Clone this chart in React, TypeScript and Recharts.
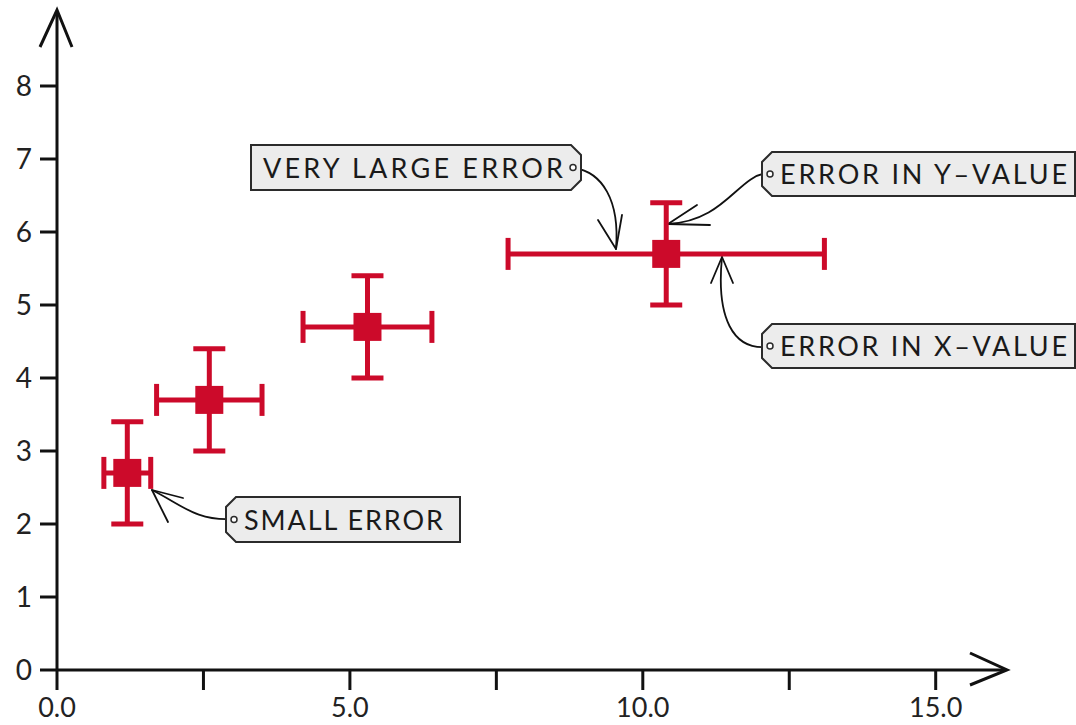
import React from 'react';
import { ScatterChart, Scatter, XAxis, YAxis, ErrorBar, Customized } from 'recharts';

// measured points with their uncertainties
const xValues = [1.2, 2.6, 5.3, 10.4];
const yValues = [2.7, 3.7, 4.7, 5.7];
const xErrors = [0.4, 0.9, 1.1, 2.7];
const yErrors = [0.7, 0.7, 0.7, 0.7];

const xTicks = [0, 2.5, 5, 7.5, 10, 12.5, 15];
const yTicks = [0, 1, 2, 3, 4, 5, 6, 7, 8];

const RED = '#cc0a2a';
const INK = '#111';
const FONT = 'Lato, "Open Sans", sans-serif';

const WIDTH = 1076;
const HEIGHT = 725;
const Y_AXIS_W = 57;
const X_AXIS_H = 55;
const MARGIN = { top: 13, right: 70, bottom: 0, left: 0 };

const points = xValues.map((x, i) => ({
  x,
  y: yValues[i],
  xErr: xErrors[i],
  yErr: yErrors[i],
}));

const SquareMarker = (props: any) => {
  const { cx, cy } = props;
  if (typeof cx !== 'number' || typeof cy !== 'number') return <g />;
  const s = 28;
  return <rect x={cx - s / 2} y={cy - s / 2} width={s} height={s} fill={RED} />;
};

interface TagProps {
  x0: number;
  x1: number;
  y0: number;
  y1: number;
  pin: 'left' | 'right';
  label: string;
  textWidth: number;
}

// label tag with a clipped corner on the side of the string hole
const Tag = ({ x0, x1, y0, y1, pin, label, textWidth }: TagProps) => {
  const c = 10;
  const d =
    pin === 'left'
      ? `M${x0 + c},${y0} L${x1},${y0} L${x1},${y1} L${x0 + c},${y1} L${x0},${y1 - c} L${x0},${y0 + c} Z`
      : `M${x0},${y0} L${x1 - c},${y0} L${x1},${y0 + c} L${x1},${y1 - c} L${x1 - c},${y1} L${x0},${y1} Z`;
  const midY = (y0 + y1) / 2;
  const holeX = pin === 'left' ? x0 + 8 : x1 - 8;
  const textX = pin === 'left' ? x0 + 18 : x0 + 12;
  return (
    <g>
      <path d={d} fill="#ececec" stroke="#2b2b2b" strokeWidth={2} />
      <circle cx={holeX} cy={midY} r={3} fill="#fff" stroke="#2b2b2b" strokeWidth={1.5} />
      <text
        x={textX}
        y={midY + 10}
        fontFamily={FONT}
        fontSize={27}
        fill="#1a1a1a"
        textLength={textWidth}
        lengthAdjust="spacing"
      >
        {label}
      </text>
    </g>
  );
};

const Arrow = ({ d, head }: { d: string; head: string }) => (
  <g fill="none" stroke={INK} strokeWidth={1.8} strokeLinecap="round" strokeLinejoin="round">
    <path d={d} />
    <path d={head} />
  </g>
);

const Overlay = () => {
  const left = Y_AXIS_W;
  const bottom = HEIGHT - X_AXIS_H;
  const top = MARGIN.top - 3;
  const right = WIDTH - MARGIN.right + 1;
  return (
    <g>
      {/* axis arrowheads */}
      <path
        d={`M${left - 17},${top + 37} L${left},${top} L${left + 15},${top + 37}`}
        fill="none"
        stroke={INK}
        strokeWidth={3}
      />
      <path
        d={`M${right - 37},${bottom - 17} L${right},${bottom} L${right - 37},${bottom + 15}`}
        fill="none"
        stroke={INK}
        strokeWidth={3}
      />

      <Arrow d="M574,168 C602,172 620,200 616,249" head="M598,220 L616,249 L622,215" />
      <Arrow d="M767,173 C738,176 725,221 668,224" head="M697,205 L668,224 L710,225" />
      <Arrow d="M767,347 C733,350 716,318 722,257" head="M711,283 L722,257 L733,283" />
      <Arrow d="M232,519 C196,521 182,505 152,490" head="M183,498 L152,490 L168,522" />

      <Tag x0={251} x1={581} y0={145} y1={190} pin="right" label="VERY  LARGE  ERROR" textWidth={300} />
      <Tag x0={762} x1={1075} y0={152} y1={196} pin="left" label="ERROR  IN  Y–VALUE" textWidth={287} />
      <Tag x0={762} x1={1075} y0={324} y1={368} pin="left" label="ERROR  IN  X–VALUE" textWidth={287} />
      <Tag x0={226} x1={460} y0={497} y1={542} pin="left" label="SMALL  ERROR" textWidth={199} />
    </g>
  );
};

const xTickFormat = (v: number) => (v % 5 === 0 ? v.toFixed(1) : '');

export default function App() {
  return (
    <div style={{ position: 'absolute', left: 0, top: 0, background: '#fff' }}>
      <ScatterChart width={WIDTH} height={HEIGHT} margin={MARGIN}>
        <XAxis
          type="number"
          dataKey="x"
          domain={[0, 16.2]}
          ticks={xTicks}
          tickFormatter={xTickFormat}
          allowDataOverflow
          axisLine={{ stroke: INK, strokeWidth: 3 }}
          tickLine={{ stroke: INK, strokeWidth: 3 }}
          tickSize={20}
          tickMargin={8}
          tick={{ fill: '#222', fontSize: 27, fontFamily: FONT }}
          height={X_AXIS_H}
        />
        <YAxis
          type="number"
          dataKey="y"
          domain={[0, 9]}
          ticks={yTicks}
          allowDataOverflow
          axisLine={{ stroke: INK, strokeWidth: 3 }}
          tickLine={{ stroke: INK, strokeWidth: 3 }}
          tickSize={17}
          tickMargin={8}
          tick={{ fill: '#222', fontSize: 28, fontFamily: FONT }}
          width={Y_AXIS_W}
        />
        <Scatter data={points} shape={SquareMarker} isAnimationActive={false}>
          <ErrorBar dataKey="xErr" direction="x" stroke={RED} strokeWidth={5} width={16} isAnimationActive={false} />
          <ErrorBar dataKey="yErr" direction="y" stroke={RED} strokeWidth={5} width={16} isAnimationActive={false} />
        </Scatter>
        <Customized component={Overlay} />
      </ScatterChart>
    </div>
  );
}
